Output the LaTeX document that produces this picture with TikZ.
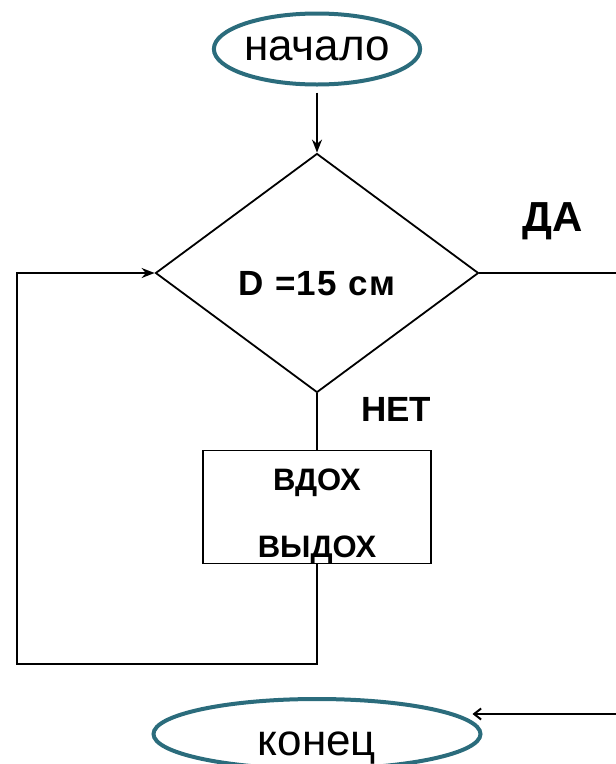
\documentclass[tikz,border=0pt]{standalone}
\usepackage{fontspec}
\setmainfont{Liberation Sans}
\usetikzlibrary{positioning,shapes.geometric,arrows.meta}
\definecolor{termteal}{HTML}{2B6C7C}
\begin{document}
\begin{tikzpicture}[on grid, line width=1.8pt,
    terminal/.style={ellipse, draw=termteal, line width=4pt, inner sep=0pt, font=\fontsize{44}{50}\selectfont},
    decision/.style={diamond, draw, inner sep=0pt, minimum width=323pt, minimum height=239pt, font=\fontsize{35}{40}\selectfont\bfseries\addfontfeature{LetterSpace=4}},
    process/.style={rectangle, draw, align=center, inner xsep=4pt, inner ysep=2pt, minimum width=228pt, minimum height=113pt, font=\fontsize{31}{37}\selectfont\bfseries},
    arr/.style={-{Stealth[length=13pt, width=10pt]}}]
  \useasboundingbox (0,0) rectangle (616pt,-764pt);
  % blocks
  \node[terminal, minimum width=205pt, minimum height=71pt] (start) at (317pt,-49pt) {начало};
  \node[decision, text height=45pt, text depth=0pt] (cond) [below = 224pt of start] {D =15 см};
  \node[process, text height=100pt, text depth=0pt] (act) [below = 234pt of cond] {ВДОХ\\[30pt]ВЫДОХ};
  \node[terminal, minimum width=327pt, minimum height=70pt, text height=42pt, text depth=0pt] (stop) [below = 227pt of act] {конец};
  % answers
  \node[font=\fontsize{42}{48}\selectfont\bfseries] (yes) [above right = 52pt and 236pt of cond] {ДА};
  \node[font=\fontsize{35}{40}\selectfont\bfseries] (no) [below right = 136pt and 79pt of cond] {НЕТ};
  % connectors
  \coordinate (loopc) at (17pt,-664pt);
  \coordinate (yesc) at (619pt,-714pt);
  \draw[arr, shorten <=6pt] (start) -- (cond);
  \draw (cond) -- (act);
  \draw[arr] (act.south) |- (loopc) |- (cond.west);
  \draw[line width=2pt, -{Straight Barb[length=7pt, width=11pt]}, shorten >=-10pt] (cond.east) -| (yesc) -- (stop.east |- yesc);
\end{tikzpicture}
\end{document}
